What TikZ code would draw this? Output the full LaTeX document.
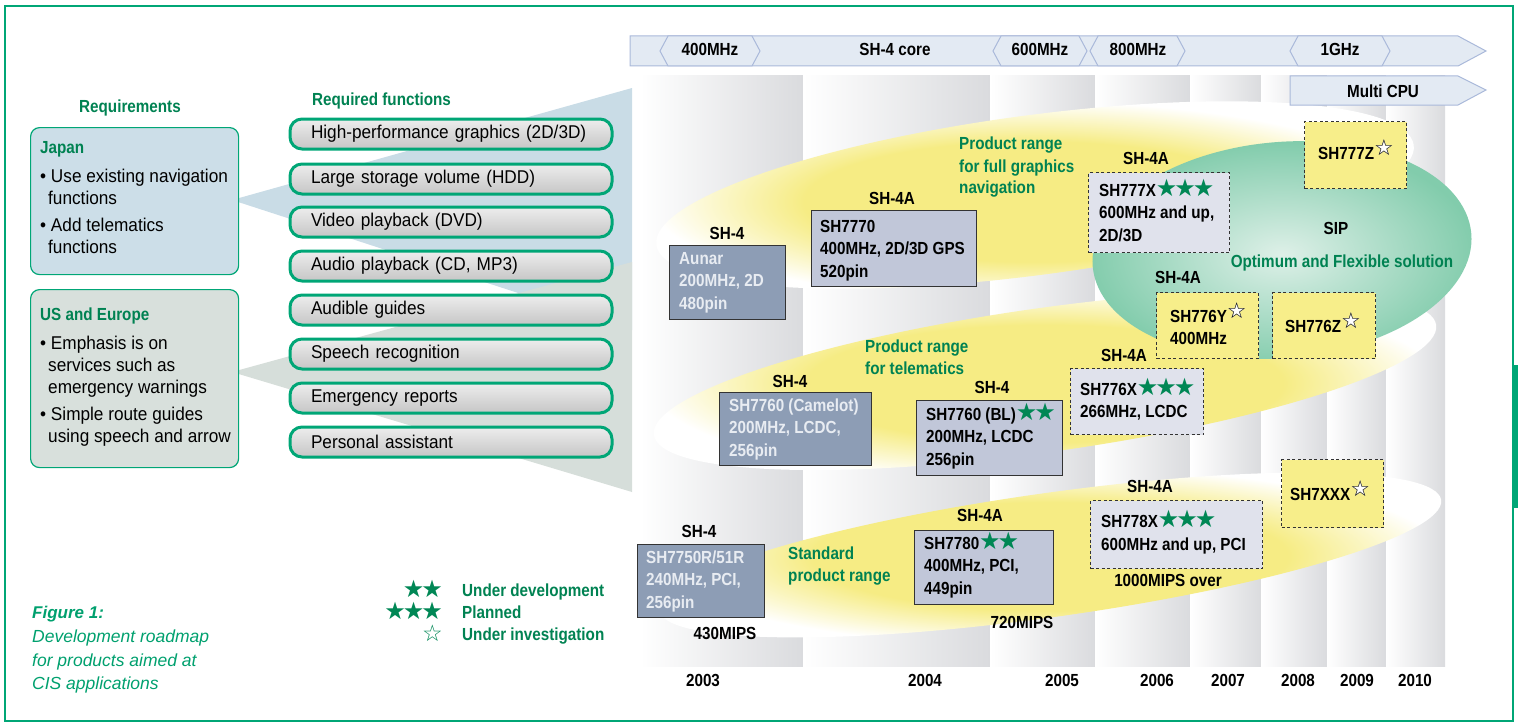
\documentclass[tikz,border=0pt]{standalone}
\usepackage{fontspec}
\setmainfont{Liberation Sans}[FakeStretch=0.93]
\newfontfamily\bd{Liberation Sans}[FakeStretch=0.87]
\newfontfamily\capf{Liberation Sans}
\newfontfamily\symf{DejaVu Sans}
\definecolor{tgreen}{RGB}{0,130,82}
\definecolor{bgreen}{RGB}{0,166,118}
\definecolor{cgreen}{RGB}{0,160,110}
\definecolor{sgreen}{RGB}{0,135,85}
\definecolor{darkfill}{RGB}{141,157,181}
\definecolor{darktext}{RGB}{232,236,242}
\definecolor{lightfill}{RGB}{193,199,217}
\definecolor{dashfill}{RGB}{224,226,236}
\definecolor{yelfill}{RGB}{247,238,138}
\definecolor{barfill}{RGB}{227,234,243}
\definecolor{barline}{RGB}{170,185,218}
\definecolor{wblue}{RGB}{201,220,230}
\definecolor{wgrey}{RGB}{214,222,218}
\definecolor{japfill}{RGB}{204,222,232}
\definecolor{usfill}{RGB}{216,224,220}
\definecolor{yel}{RGB}{246,236,132}
\definecolor{gin}{RGB}{222,240,232}
\definecolor{gout}{RGB}{130,204,172}
\definecolor{colgrey}{RGB}{218,219,222}
\pgfdeclareradialshading{glow}{\pgfpoint{0bp}{0bp}}{color(0bp)=(yel); color(15bp)=(yel); color(25bp)=(white); color(50bp)=(white)}
\pgfdeclareradialshading{greenglow}{\pgfpoint{0bp}{0bp}}{color(0bp)=(gin); color(25bp)=(gout); color(50bp)=(gout)}
\newcommand\OneS{{\symf\fontsize{24}{24}\selectfont\color{sgreen}★}}
\newcommand\FS{\smash{\raisebox{0pt}{\OneS}}}
\newcommand\FSS{\smash{\OneS\kern-3pt\OneS}}
\newcommand\FSSS{\smash{\OneS\kern-3pt\OneS\kern-3pt\OneS}}
\newcommand\HS{\smash{\raisebox{4pt}{\symf\fontsize{22}{22}\selectfont\makebox[0pt][l]{\color{white}★}\color{black}☆}}}
\tikzset{
  bt/.style={font=\bd\bfseries\fontsize{17.5}{22}\selectfont, inner sep=0pt},
  gt/.style={bt, text=tgreen, anchor=base west},
  rt/.style={font=\fontsize{18.5}{22}\selectfont, inner sep=0pt, anchor=base west},
  prod/.style={draw=black!80, line width=1.2pt, anchor=north west, inner sep=0pt},
  ptxt/.style={anchor=west, align=left, inner sep=0pt, font=\bd\bfseries\fontsize{17.5}{22.5}\selectfont},
  darkp/.style={prod, fill=darkfill},
  lightp/.style={prod, fill=lightfill},
  dashp/.style={prod, fill=dashfill, dash pattern=on 3pt off 2.5pt},
  yelp/.style={prod, fill=yelfill, dash pattern=on 3pt off 2.5pt},
  fbox/.style={draw=bgreen, line width=3pt, rounded corners=12pt, top color=gray!14,
    middle color=white, bottom color=gray!45, align=left, text width=280pt,
    inner xsep=21pt, minimum height=30pt, inner ysep=0pt, font=\fontsize{18.5}{20}\selectfont},
  reqbox/.style={draw=bgreen, line width=1.2pt, rounded corners=9pt, anchor=north west},
  barshape/.style={draw=barline, fill=barfill, line width=1pt},
}
\begin{document}
\begin{tikzpicture}[x=1pt,y=-1pt]
\useasboundingbox (0,0) rectangle (1518,725);
% frame
\draw[bgreen, line width=2pt] (5,6) rectangle (1513,721);
\fill[bgreen] (1514,365) rectangle (1518,508);
% wedges
\fill[wblue] (232,200) -- (632,88) -- (632,330) -- cycle;
\fill[wgrey] (232,372) -- (632,262) -- (632,492) -- cycle;
% columns
\foreach \a/\b in {640/803, 803/990, 990/1095, 1095/1190, 1190/1261, 1261/1327, 1327/1386, 1386/1445}
  \shade[left color=white, right color=colgrey] (\a,76) rectangle (\b,666);
% yellow glows
\begin{scope}[shift={(1035,195)}, rotate=7.5]
  \shade[shading=glow] (0,0) ellipse [x radius=382, y radius=80];
\end{scope}
\begin{scope}[shift={(1045,380)}, rotate=8]
  \shade[shading=glow] (0,0) ellipse [x radius=395, y radius=72];
\end{scope}
\begin{scope}[shift={(1050,555)}, rotate=8]
  \shade[shading=glow] (0,0) ellipse [x radius=395, y radius=62];
\end{scope}
% green SIP ellipse
\begin{scope}[shift={(1282,250)}, rotate=5]
  \shade[shading=greenglow] (0,0) ellipse [x radius=190, y radius=108];
\end{scope}
% top bars
\draw[barshape] (630,36) -- (1458,36) -- (1486,51) -- (1458,66) -- (630,66) -- cycle;
\draw[barshape] (1290,76) -- (1458,76) -- (1486,90) -- (1458,105) -- (1290,105) -- cycle;
\foreach \a/\b in {660/760, 993/1087, 1090/1185, 1290/1390}
  \draw[barshape] (\a,51) -- (\a+8,36) -- (\b-8,36) -- (\b,51) -- (\b-8,66) -- (\a+8,66) -- cycle;
\node[bt, anchor=base] (b400) at (710,56) {400MHz};
\node[bt, anchor=base] (bcore) at (895,56) {SH-4 core};
\node[bt, anchor=base] (b600) at (1040,56) {600MHz};
\node[bt, anchor=base] (b800) at (1138,56) {800MHz};
\node[bt, anchor=base] (b1g) at (1340,56) {1GHz};
\node[bt, anchor=base] (bmc) at (1383,97) {Multi CPU};
% left panel
\node[bt, text=tgreen, anchor=base] (req) at (130,112) {Requirements};
\node[reqbox, fill=japfill, minimum width=208pt, minimum height=147pt] (jp) at (30,127) {};
\node[reqbox, fill=usfill, minimum width=208pt, minimum height=178pt] (us) at (30,289) {};
\node[gt] (jpt) at (40,153) {Japan};
\node[rt] (j1) at (40,182) {• Use existing navigation};
\node[rt] (j2) at (48,204) {functions};
\node[rt] (j3) at (40,231) {• Add telematics};
\node[rt] (j4) at (48,253) {functions};
\node[gt] (ust) at (40,320) {US and Europe};
\node[rt] (u1) at (40,349) {• Emphasis is on};
\node[rt] (u2) at (48,371) {services such as};
\node[rt] (u3) at (48,393) {emergency warnings};
\node[rt] (u4) at (40,420) {• Simple route guides};
\node[rt] (u5) at (48,442) {using speech and arrow};
% functions
\node[gt] (rf) at (312,106) {Required functions};
\node[fbox] (f1) at (451,134) {High-performance graphics (2D/3D)};
\node[fbox] (f2) at (451,179) {Large storage volume (HDD)};
\node[fbox] (f3) at (451,222) {Video playback (DVD)};
\node[fbox] (f4) at (451,266) {Audio playback (CD, MP3)};
\node[fbox] (f5) at (451,310) {Audible guides};
\node[fbox] (f6) at (451,354) {Speech recognition};
\node[fbox] (f7) at (451,398) {Emergency reports};
\node[fbox] (f8) at (451,442) {Personal assistant};
% legend
\node[anchor=base east, inner sep=0pt] (s2) at (443,597) {\OneS\kern-3pt\OneS};
\node[anchor=base east, inner sep=0pt] (s3) at (443,619) {\OneS\kern-3pt\OneS\kern-3pt\OneS};
\node[anchor=base east, inner sep=0pt] (s1) at (443,641) {{\symf\fontsize{23}{23}\selectfont\color{sgreen}☆}};
\node[gt] (lg1) at (462,596) {Under development};
\node[gt] (lg2) at (462,618) {Planned};
\node[gt] (lg3) at (462,640) {Under investigation};
% caption
\node[anchor=base west, inner sep=0pt, text=cgreen, font=\capf\bfseries\itshape\fontsize{17}{17}\selectfont] (cap0) at (32,618) {Figure 1:};
\node[anchor=base west, inner sep=0pt, text=cgreen, font=\capf\itshape\fontsize{17.5}{17}\selectfont] (cap1) at (32,642) {Development roadmap};
\node[anchor=base west, inner sep=0pt, text=cgreen, font=\capf\itshape\fontsize{17.5}{17}\selectfont] (cap2) at (32,666) {for products aimed at};
\node[anchor=base west, inner sep=0pt, text=cgreen, font=\capf\itshape\fontsize{17.5}{17}\selectfont] (cap3) at (32,689) {CIS applications};
% range labels
\node[gt] (pr1a) at (959,149) {Product range};
\node[gt] (pr1b) at (959,172) {for full graphics};
\node[gt] (pr1c) at (959,193) {navigation};
\node[gt] (pr2a) at (865,352) {Product range};
\node[gt] (pr2b) at (865,374) {for telematics};
\node[gt] (pr3a) at (788,559) {Standard};
\node[gt] (pr3b) at (788,581) {product range};
\node[bt, text=tgreen, anchor=base] (opt) at (1342,267) {Optimum and Flexible solution};
\node[bt, anchor=base] (sip) at (1336,234) {SIP};
% core labels
\node[bt, anchor=base] (c1) at (727,239) {SH-4};
\node[bt, anchor=base] (c2) at (892,204) {SH-4A};
\node[bt, anchor=base] (c3) at (790,387) {SH-4};
\node[bt, anchor=base] (c4) at (992,393) {SH-4};
\node[bt, anchor=base] (c5) at (1124,361) {SH-4A};
\node[bt, anchor=base] (c6) at (1178,283) {SH-4A};
\node[bt, anchor=base] (c7) at (1146,164) {SH-4A};
\node[bt, anchor=base] (c8) at (699,537) {SH-4};
\node[bt, anchor=base] (c9) at (980,521) {SH-4A};
\node[bt, anchor=base] (c10) at (1150,492) {SH-4A};
% product boxes
\node[darkp, minimum width=116pt, minimum height=74pt] (aunar) at (669,245) {};
\node[ptxt, text=darktext] (aunart) at ([xshift=10pt]aunar.west) {Aunar\\200MHz, 2D\\480pin};
\node[lightp, minimum width=165pt, minimum height=76pt] (p7770) at (811,210) {};
\node[ptxt] (p7770t) at ([xshift=9pt,yshift=-2pt]p7770.west) {SH7770\\400MHz, 2D/3D GPS\\520pin};
\node[darkp, minimum width=152pt, minimum height=73pt] (camelot) at (719,392) {};
\node[ptxt, text=darktext] (camelott) at ([xshift=10pt]camelot.west) {SH7760 (Camelot)\\200MHz, LCDC,\\256pin};
\node[lightp, minimum width=146pt, minimum height=75pt] (bl) at (916,400) {};
\node[ptxt] (blt) at ([xshift=10pt]bl.west) {SH7760 (BL)\FSS\\200MHz, LCDC\\256pin};
\node[dashp, minimum width=133pt, minimum height=66pt] (p776x) at (1070,368) {};
\node[ptxt] (p776xt) at ([xshift=10pt]p776x.west) {SH776X\FSSS\\266MHz, LCDC};
\node[yelp, minimum width=102pt, minimum height=66pt] (p776y) at (1156,292) {};
\node[ptxt] (p776yt) at ([xshift=14pt,yshift=-2pt]p776y.west) {SH776Y\HS\\400MHz};
\node[yelp, minimum width=103pt, minimum height=66pt] (p776z) at (1272,292) {};
\node[ptxt] (p776zt) at ([xshift=13pt,yshift=-1pt]p776z.west) {SH776Z\HS};
\node[dashp, minimum width=141pt, minimum height=80pt] (p777x) at (1088,172) {};
\node[ptxt] (p777xt) at ([xshift=11pt]p777x.west) {SH777X\FSSS\\600MHz and up,\\2D/3D};
\node[yelp, minimum width=102pt, minimum height=67pt] (p777z) at (1304,121) {};
\node[ptxt] (p777zt) at ([xshift=14pt,yshift=2pt]p777z.west) {SH777Z\HS};
\node[darkp, minimum width=127pt, minimum height=73pt] (p7750) at (637,544) {};
\node[ptxt, text=darktext] (p7750t) at ([xshift=9pt]p7750.west) {SH7750R/51R\\240MHz, PCI,\\256pin};
\node[lightp, minimum width=139pt, minimum height=74pt] (p7780) at (914,530) {};
\node[ptxt] (p7780t) at ([xshift=10pt]p7780.west) {SH7780\FSS\\400MHz, PCI,\\449pin};
\node[dashp, minimum width=172pt, minimum height=68pt] (p778x) at (1090,500) {};
\node[ptxt] (p778xt) at ([xshift=11pt]p778x.west) {SH778X\FSSS\\600MHz and up, PCI};
\node[yelp, minimum width=102pt, minimum height=68pt] (p7xxx) at (1281,459) {};
\node[ptxt] (p7xxxt) at ([xshift=9pt,yshift=-1pt]p7xxx.west) {SH7XXX\HS};
% MIPS
\node[bt, anchor=base] (m1) at (725,639) {430MIPS};
\node[bt, anchor=base] (m2) at (1022,628) {720MIPS};
\node[bt, anchor=base] (m3) at (1168,586) {1000MIPS over};
% years
\foreach \x/\y in {703/2003, 925/2004, 1062/2005, 1157/2006, 1228/2007, 1298/2008, 1357/2009, 1415/2010}
  \node[bt, anchor=base] (y\y) at (\x,686) {\y};
\end{tikzpicture}
\end{document}
